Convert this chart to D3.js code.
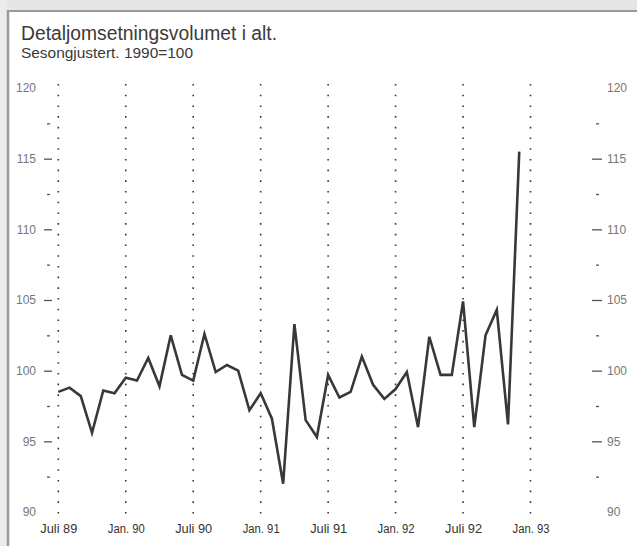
<!DOCTYPE html>
<html><head><meta charset="utf-8">
<script src="https://cdn.jsdelivr.net/npm/d3@7"></script>
<style>body{margin:0;background:#fff}svg{display:block}</style>
</head><body>
<svg id="c" width="637" height="546"></svg>
<script>
const title = "Detaljomsetningsvolumet i alt.";
const subtitle = "Sesongjustert. 1990=100";
// months from Juli 1989 (index 0) to Des 1992 (index 41)
const values = [98.5,98.8,98.2,95.6,98.6,98.4, 99.5,99.3,100.9,98.9,102.5,99.7,
  99.3,102.6,99.9,100.4,100.0,97.2, 98.4,96.6,92.0,103.3,96.5,95.3,
  99.7,98.1,98.5,101.0,99.0,98.0, 98.7,99.9,96.0,102.4,99.7,99.7,
  104.9,96.0,102.5,104.3,96.2,115.5];
const xTickIdx = [0,6,12,18,24,30,36,42];
const xTickLabels = ["Juli 89","Jan. 90","Juli 90","Jan. 91","Juli 91","Jan. 92","Juli 92","Jan. 93"];
const yMajor = [95,100,105,110,115];
const yMinor = [92.5,97.5,102.5,107.5,112.5,117.5];
const yLabels = [90,95,100,105,110,115,120];

const svg = d3.select("#c");
const x = d3.scaleLinear().domain([0,42]).range([58.3,530.5]);
const y = d3.scaleLinear().domain([90,120]).range([512,88]);

// page frame (scan look)
svg.append("rect").attr("x",0).attr("y",0).attr("width",637).attr("height",10).attr("fill","#e6e6e6");
svg.append("rect").attr("x",0).attr("y",0).attr("width",7).attr("height",546).attr("fill","#ececec");
svg.append("line").attr("x1",7).attr("x2",637).attr("y1",11).attr("y2",11).attr("stroke","#9a9a9a").attr("stroke-width",2);
svg.append("line").attr("x1",8).attr("x2",8).attr("y1",10).attr("y2",546).attr("stroke","#9a9a9a").attr("stroke-width",2.5);

svg.append("text").attr("x",21).attr("y",40).text(title)
  .attr("font-family","Liberation Sans, Arial, sans-serif").attr("font-size",20).attr("fill","#3a3a3a")
  .attr("textLength",256).attr("lengthAdjust","spacingAndGlyphs");
svg.append("text").attr("x",21).attr("y",58).text(subtitle)
  .attr("font-family","Liberation Sans, Arial, sans-serif").attr("font-size",14.5).attr("fill","#3a3a3a")
  .attr("textLength",172).attr("lengthAdjust","spacingAndGlyphs");

// vertical dotted lines
svg.append("g").selectAll("line").data(xTickIdx).join("line")
  .attr("x1",d=>x(d)).attr("x2",d=>x(d)).attr("y1",84).attr("y2",516)
  .attr("stroke","#333").attr("stroke-width",1.6).attr("stroke-dasharray","1.6,9.1");

// y axes (left and right) built with d3 axes
const font = "Liberation Sans, Arial, sans-serif";
function styleAxis(g){ g.select(".domain").remove(); g.selectAll("text").attr("font-family",font).attr("font-size",12).attr("fill","#777"); }

const leftMajor = d3.axisLeft(y).tickValues(yMajor).tickSize(8).tickFormat("");
svg.append("g").attr("transform","translate(52,0)").call(leftMajor).call(styleAxis)
  .selectAll("line").attr("stroke","#555").attr("stroke-width",1.3);
const leftMinor = d3.axisLeft(y).tickValues(yMinor).tickSize(3).tickFormat("");
svg.append("g").attr("transform","translate(50,0)").call(leftMinor).call(styleAxis)
  .selectAll("line").attr("stroke","#555").attr("stroke-width",1.3);
const leftLab = d3.axisLeft(y).tickValues(yLabels).tickSize(0).tickPadding(0).tickFormat(d3.format("d"));
svg.append("g").attr("transform","translate(36,0)").call(leftLab).call(styleAxis);

const rightMajor = d3.axisRight(y).tickValues(yMajor).tickSize(10).tickFormat("");
svg.append("g").attr("transform","translate(592,0)").call(rightMajor).call(styleAxis)
  .selectAll("line").attr("stroke","#555").attr("stroke-width",1.3);
const rightMinor = d3.axisRight(y).tickValues(yMinor).tickSize(3).tickFormat("");
svg.append("g").attr("transform","translate(596,0)").call(rightMinor).call(styleAxis)
  .selectAll("line").attr("stroke","#555").attr("stroke-width",1.3);
const rightLab = d3.axisRight(y).tickValues(yLabels).tickSize(0).tickPadding(0).tickFormat(d3.format("d"));
svg.append("g").attr("transform","translate(607,0)").call(rightLab).call(styleAxis);

// bottom labels
const xAx = d3.axisBottom(x).tickValues(xTickIdx).tickSize(0).tickPadding(0).tickFormat((d,i)=>xTickLabels[i]);
const gx = svg.append("g").attr("transform","translate(0,524)").call(xAx);
gx.select(".domain").remove();
gx.selectAll("text").attr("font-family",font).attr("font-size",12).attr("fill","#333")
  .attr("textLength",37).attr("lengthAdjust","spacingAndGlyphs");

// line
svg.append("path").datum(values)
  .attr("d", d3.line().x((d,i)=>x(i)).y(d=>y(d)))
  .attr("fill","none").attr("stroke","#383838").attr("stroke-width",2.6).attr("stroke-linejoin","miter");
</script>
</body></html>
